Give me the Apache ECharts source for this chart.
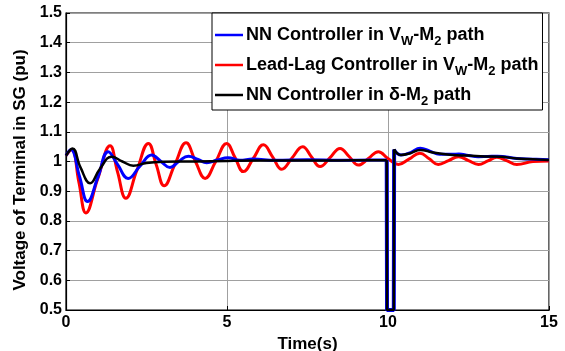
<!DOCTYPE html>
<html><head><meta charset="utf-8">
<script src="https://cdn.jsdelivr.net/npm/echarts@6/dist/echarts.min.js"></script>
<style>html,body{margin:0;padding:0;background:#fff}#c{width:565px;height:351px}</style>
</head><body><div id="c"></div>
<script>
const yTicks = [0.5,0.6,0.7,0.8,0.9,1,1.1,1.2,1.3,1.4,1.5];
const xTicks = [0,5,10,15];
const seriesNames = ['{m|NN Controller in V}{sub|W}{m|-M}{sub|2}{m| path}','{m|Lead-Lag Controller in V}{sub|W}{m|-M}{sub|2}{m| path}','{m|NN Controller in δ-M}{sub|2}{m| path}'];
// NN controller in Vw-M2 path (blue): before fault, fault dip, after fault
const nnVwT = [0,0.15,0.42,0.67,1.0,1.31,1.6,1.93,2.3,2.66,2.95,3.23,3.5,3.8,4.1,4.37,4.7,5.03,5.4,5.8,6.5,7.5,8.5,9.5,9.96];
const nnVwV = [1.02,1.04,0.95,0.865,0.95,1.033,0.99,0.943,0.985,1.022,1.0,0.98,1.0,1.018,1.007,0.996,1.005,1.013,1.004,1.008,1.004,1.006,1.004,1.005,1.005];
const nnVwDipT = [9.96,9.97,10.18,10.19];
const nnVwDipV = [1.005,0.5,0.5,1.04];
const nnVwPostT = [10.19,10.4,10.7,11.0,11.3,11.6,12.0,12.2,12.5,12.8,13.1,13.4,14.0,14.5,15];
const nnVwPostV = [1.04,1.022,1.03,1.045,1.035,1.024,1.024,1.025,1.02,1.016,1.017,1.018,1.01,1.008,1.006];
// Lead-lag controller (red)
const leadLagT = [0,0.18,0.4,0.62,0.98,1.37,1.6,1.86,2.2,2.56,2.8,3.05,3.38,3.73,4.02,4.32,4.65,4.99,5.25,5.51,5.82,6.13,6.42,6.7,7.02,7.35,7.62,7.89,8.2,8.51,8.8,9.08,9.39,9.7,10.0,10.32,10.65,10.99,11.28,11.56,11.88,12.19,12.5,12.81,13.1,13.38,13.7,14.0,14.5,15];
const leadLagV = [1.02,1.04,0.93,0.827,0.94,1.053,0.965,0.876,0.97,1.061,0.99,0.918,0.99,1.063,1.0,0.943,1.0,1.061,1.013,0.966,1.011,1.056,1.015,0.974,1.012,1.05,1.016,0.983,1.013,1.044,1.016,0.988,1.01,1.033,1.01,0.99,1.008,1.028,1.009,0.99,1.003,1.016,1.003,0.99,1.002,1.014,1.002,0.99,1.0,1.002];
// NN controller in delta-M2 path (black)
const nnDeltaT = [0,0.2,0.45,0.75,1.05,1.42,1.75,2.09,2.5,3.0,4,5,6,7,8,9,9.96];
const nnDeltaV = [1.02,1.044,0.98,0.927,0.975,1.016,1.0,0.986,0.995,0.999,1.0,1.002,1.003,1.003,1.003,1.004,1.004];
const nnDeltaDipT = [9.96,9.97,10.18,10.19];
const nnDeltaDipV = [1.004,0.5,0.5,1.041];
const nnDeltaPostT = [10.19,10.4,10.7,11.0,11.4,12,12.5,13,13.5,14,14.5,15];
const nnDeltaPostV = [1.041,1.022,1.028,1.039,1.03,1.022,1.02,1.017,1.016,1.01,1.008,1.005];
const colors = ['#0000ff','#ff0000','#000000'];
const zip = (t,v) => t.map((x,i)=>[x,v[i]]);
const withGap = (a,b) => zip(a[0],a[1]).concat([[null,null]]).concat(zip(b[0],b[1]));
const FONT = '"Liberation Sans", Arial, sans-serif';
const chart = echarts.init(document.getElementById('c'));
const base = {type:'line', showSymbol:false, symbol:'none', animation:false, connectNulls:false};
const mk = (name, data, color, width, z, smooth) => Object.assign({}, base, {name, data, smooth, z,
  lineStyle:{color, width}, itemStyle:{color}});
chart.setOption({
  animation:false,
  backgroundColor:'#fff',
  grid:{left:66,right:16,top:13,bottom:41,show:true,borderColor:'#000',borderWidth:1.2,outerBoundsMode:'none'},
  xAxis:{type:'value',min:0,max:15,interval:5,
    name:'Time(s)',nameLocation:'middle',nameGap:22,
    nameTextStyle:{fontFamily:FONT,fontWeight:'bold',fontSize:17,color:'#000'},
    axisLine:{show:true,onZero:false,lineStyle:{color:'#000',width:1.2}},
    axisTick:{show:true,inside:true,length:4,lineStyle:{color:'#000'}},
    axisLabel:{fontFamily:FONT,fontWeight:'bold',fontSize:16,color:'#000',margin:5},
    splitLine:{show:true,lineStyle:{color:'#a0a0a0',width:1}}},
  yAxis:{type:'value',min:0.5,max:1.5,interval:0.1,
    name:'Voltage of Terminal in SG (pu)',nameLocation:'middle',nameGap:31,
    nameTextStyle:{fontFamily:FONT,fontWeight:'bold',fontSize:17,color:'#000',padding:[0,17,0,0]},
    axisLine:{show:true,lineStyle:{color:'#000',width:1.2}},
    axisTick:{show:true,inside:true,length:4,lineStyle:{color:'#000'}},
    axisLabel:{fontFamily:FONT,fontWeight:'bold',fontSize:16,color:'#000',margin:4,
      formatter:v=>String(Math.round(v*10)/10)},
    splitLine:{show:true,lineStyle:{color:'#a0a0a0',width:1}}},
  legend:{orient:'vertical',left:212,top:13,
    backgroundColor:'#fff',borderColor:'#000',borderWidth:1,borderRadius:0,
    padding:[13,4,2,3],itemGap:8,itemWidth:28,itemHeight:2.5,icon:'rect',
    data:seriesNames,
    textStyle:{fontFamily:FONT,fontWeight:'bold',fontSize:18,color:'#000',padding:[0,0,0,-2],
      rich:{m:{fontFamily:FONT,fontWeight:'bold',fontSize:18,color:'#000',lineHeight:18,verticalAlign:'top'},
            sub:{fontFamily:FONT,fontWeight:'bold',fontSize:13,color:'#000',lineHeight:18,verticalAlign:'top',padding:[9,0,0,0]}}}},
  series:[
    mk(seriesNames[1], zip(leadLagT,leadLagV), colors[1], 3, 1, 0.45),
    mk(seriesNames[0], withGap([nnVwT,nnVwV],[nnVwPostT,nnVwPostV]), colors[0], 3, 2, 0.45),
    mk(seriesNames[0], zip(nnVwDipT,nnVwDipV), colors[0], 4, 2, false),
    mk(seriesNames[2], withGap([nnDeltaT,nnDeltaV],[nnDeltaPostT,nnDeltaPostV]), colors[2], 2.5, 3, 0.45),
    mk(seriesNames[2], zip(nnDeltaDipT,nnDeltaDipV), colors[2], 2.5, 3, false)
  ]
});
</script></body></html>
